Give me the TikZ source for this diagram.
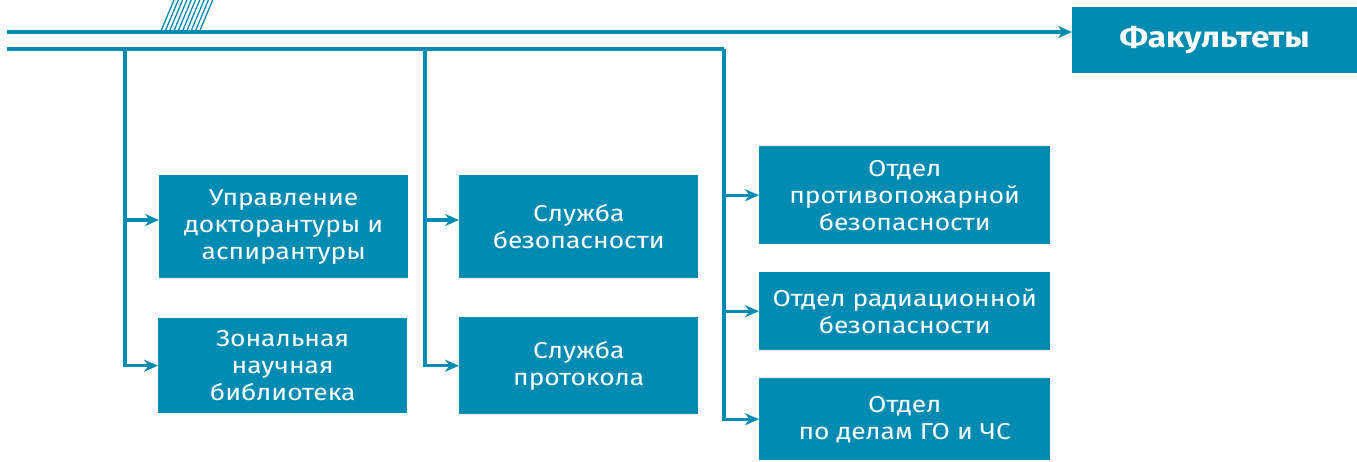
\documentclass[tikz,border=0pt]{standalone}
\usepackage{fontspec}
\setmainfont{Fira Sans}[FakeStretch=1.15]
\usetikzlibrary{arrows.meta}
\definecolor{bl}{RGB}{0,139,178}
\begin{document}
\begin{tikzpicture}[x=1pt,y=-1pt,
  box/.style={fill=bl, text=white, inner sep=0pt, align=center, anchor=north west,
    font=\fontsize{23}{27}\selectfont},
  ln/.style={draw=bl, line width=3.2pt},
  arr/.style={ln, -{Stealth[length=14pt,width=12pt]}},
  hatch/.style={draw=bl, line width=1.3pt}]
\useasboundingbox (0,0) rectangle (1357,461);
% boxes
\node[box, minimum width=285pt, minimum height=66pt, font=\fontsize{29}{34}\selectfont\bfseries] (fak) at (1072,7) {Факультеты};
\node[box, minimum width=249pt, minimum height=103pt] (b1) at (159,175) {Управление\\докторантуры и\\аспирантуры};
\node[box, minimum width=249pt, minimum height=95pt] (b2) at (158,318) {Зональная\\научная\\библиотека};
\node[box, minimum width=239pt, minimum height=103pt] (s1) at (459,175) {Служба\\безопасности};
\node[box, minimum width=239pt, minimum height=97pt] (s2) at (459,317) {Служба\\протокола};
\node[box, minimum width=291pt, minimum height=98pt] (o1) at (759,146) {Отдел\\противопожарной\\безопасности};
\node[box, minimum width=291pt, minimum height=78pt] (o2) at (759,272) {Отдел радиационной\\безопасности};
\node[box, minimum width=291pt, minimum height=82pt] (o3) at (759,378) {Отдел\\по делам ГО и ЧС};
% coordinates
\coordinate (L1) at (7,32);
\coordinate (L2) at (7,49);
\coordinate (J1) at (125,49);
\coordinate (J2) at (425,49);
\coordinate (J3) at (724,49);
\coordinate (K1) at (125,220);
\coordinate (K2) at (425,220);
% hatching
\foreach \i in {0,...,9} \draw[hatch] (161+4.3*\i,31) -- (174+4.3*\i,0);
% lines
\draw[arr] (L1) -- (fak.west |- L1);
\draw[ln] (L2) -- (J3);
\draw[arr, line join=miter] (J1) |- (b2.west);
\draw[arr] (K1) -- (b1.west |- K1);
\draw[arr, line join=miter] (J2) |- (s2.west);
\draw[arr] (K2) -- (s1.west |- K2);
\draw[arr, line join=miter] (J3) |- (o3.west);
\draw[arr] (J3 |- o1.west) -- (o1.west);
\draw[arr] (J3 |- o2.west) -- (o2.west);
\end{tikzpicture}
\end{document}
